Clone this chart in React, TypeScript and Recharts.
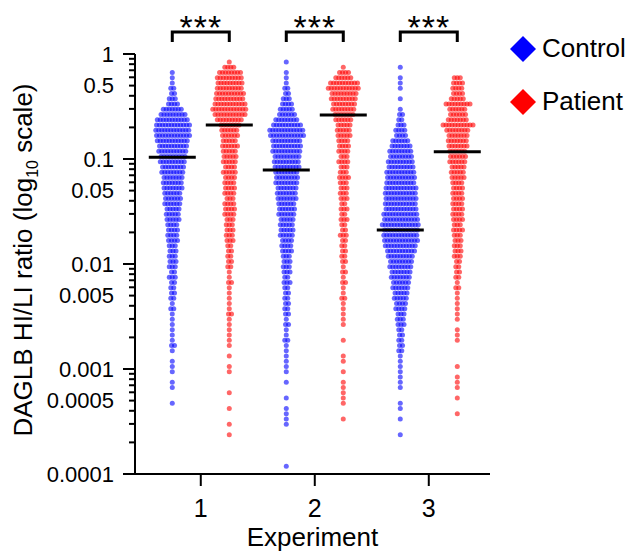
import { ScatterChart, Scatter, XAxis, YAxis, Legend } from "recharts";

const FONT = '"Liberation Sans", Arial, sans-serif';

const experiments = [1, 2, 3];
const groups = ["Control", "Patient"];
const groupColors = ["#0000ff", "#ff0000"];

// points per 0.05-decade row of the swarm, counted down from 1
const control1 = [
  0, 0, 0, 1, 1, 1, 2, 2, 3, 4, 7, 9, 11, 12, 12, 12, 11, 10, 10, 9,
  9, 8, 8, 7, 7, 7, 6, 6, 6, 5, 5, 5, 4, 4, 4, 4, 3, 3, 3, 3,
  3, 2, 3, 2, 2, 2, 2, 1, 2, 1, 1, 1, 1, 1, 1, 2, 1, 0, 1, 1,
  1, 0, 1, 1, 0, 0, 1,
];
const patient1 = [
  0, 1, 4, 8, 9, 9, 9, 10, 10, 11, 12, 11, 9, 7, 6, 6, 5, 6, 5, 5,
  5, 4, 5, 4, 4, 4, 4, 3, 4, 4, 4, 3, 3, 3, 3, 3, 2, 2, 2, 2,
  2, 1, 1, 2, 1, 1, 1, 1, 1, 2, 1, 1, 1, 1, 1, 1, 0, 1, 0, 1,
  1, 0, 0, 0, 1, 0, 0, 1, 0, 0, 1, 0, 1,
];
const control2 = [
  0, 1, 0, 1, 1, 1, 2, 2, 3, 4, 5, 6, 8, 10, 12, 12, 10, 10, 10, 9,
  9, 9, 8, 8, 8, 7, 7, 7, 6, 6, 6, 5, 5, 5, 5, 4, 4, 4, 3, 3,
  3, 3, 2, 3, 2, 2, 2, 2, 2, 2, 1, 2, 1, 1, 2, 1, 1, 1, 1, 1,
  1, 0, 1, 0, 0, 1, 0, 1, 1, 1, 1, 0, 0, 0, 0, 0, 0, 0, 1,
];
const patient2 = [
  0, 0, 1, 4, 6, 10, 11, 9, 9, 8, 8, 7, 6, 5, 5, 5, 4, 4, 4, 3,
  4, 3, 3, 4, 3, 3, 3, 3, 2, 3, 2, 3, 2, 2, 3, 2, 2, 2, 2, 2,
  1, 2, 1, 2, 1, 1, 2, 1, 1, 1, 1, 1, 0, 0, 1, 0, 0, 1, 1, 0,
  1, 0, 1, 1, 1, 1, 1, 0, 0, 1,
];
const control3 = [
  0, 0, 1, 0, 1, 1, 1, 0, 1, 0, 1, 2, 2, 3, 4, 4, 6, 7, 8, 8,
  9, 9, 10, 10, 10, 11, 11, 11, 11, 11, 12, 12, 13, 12, 12, 12, 11, 10, 9, 8,
  8, 7, 7, 6, 6, 5, 5, 4, 4, 3, 3, 3, 2, 2, 2, 2, 2, 1, 1, 1,
  1, 1, 1, 1, 0, 0, 1, 1, 0, 1, 0, 0, 1,
];
const patient3 = [
  0, 0, 0, 0, 3, 4, 4, 4, 5, 9, 6, 6, 7, 11, 8, 7, 7, 7, 6, 6,
  6, 5, 5, 5, 4, 4, 4, 4, 4, 4, 4, 4, 3, 4, 3, 3, 3, 3, 3, 2,
  2, 2, 2, 1, 2, 1, 1, 1, 1, 1, 1, 0, 1, 1, 1, 0, 0, 0, 0, 1,
  0, 1, 1, 1, 0, 1, 0, 0, 1,
];

const controlCounts = [control1, control2, control3];
const patientCounts = [patient1, patient2, patient3];

const controlMedians = [0.104, 0.0786, 0.0211];
const patientMedians = [0.211, 0.262, 0.117];

const significance = ["***", "***", "***"];

const yTickValues = [1, 0.5, 0.1, 0.05, 0.01, 0.005, 0.001, 0.0005, 0.0001];
const yTickLabels = ["1", "0.5", "0.1", "0.05", "0.01", "0.005", "0.001", "0.0005", "0.0001"];

const BIN = 0.05; // decades per swarm row
const STEP = 0.0263; // horizontal gap between swarm points, x units
const SIDE = 0.25; // offset of each group from the experiment tick
const TICK_SIZE = 12;
const TICK_MARGIN = 9;

function swarm(counts: number[], center: number) {
  const pts: { x: number; y: number }[] = [];
  counts.forEach((c, i) => {
    const y = Math.pow(10, -(i + 0.5) * BIN);
    // stagger odd rows a little so the swarm packs like a honeycomb
    const shift = c > 1 && i % 2 === 1 ? STEP * 0.25 : 0;
    for (let j = 0; j < c; j++) {
      pts.push({ x: center + (j - (c - 1) / 2) * STEP + shift, y });
    }
  });
  return pts;
}

const logTicks: number[] = [];
for (let k = -4; k < 0; k++) {
  for (let m = 1; m < 10; m++) logTicks.push(m * Math.pow(10, k));
}
logTicks.push(1);

const controlData = experiments.flatMap((e, i) => swarm(controlCounts[i], e - SIDE));
const patientData = experiments.flatMap((e, i) => swarm(patientCounts[i], e + SIDE));
const medianData = experiments.flatMap((e, i) => [
  { x: e - SIDE, y: controlMedians[i] },
  { x: e + SIDE, y: patientMedians[i] },
]);
const bracketData = experiments.map((e, i) => ({ x: e, y: 1, label: significance[i] }));

const dot = (color: string) => (props: any) => (
  <circle cx={props.cx} cy={props.cy} r={2.5} fill={color} fillOpacity={0.6} />
);

function MedianLine(props: any) {
  const { cx, cy } = props;
  return <line x1={cx - 23.5} x2={cx + 23.5} y1={cy} y2={cy} stroke="#000" strokeWidth={3} />;
}

function Bracket(props: any) {
  const { cx, cy, payload } = props;
  const half = 28.5;
  return (
    <g>
      <path
        d={`M${cx - half},${cy - 12}V${cy - 22}H${cx + half}V${cy - 12}`}
        fill="none"
        stroke="#000"
        strokeWidth={3}
      />
      <text
        x={cx}
        y={cy - 15}
        textAnchor="middle"
        fontSize={34}
        letterSpacing={1}
        fontFamily={FONT}
        fill="#000"
      >
        {payload.label}
      </text>
    </g>
  );
}

function YTick(props: any) {
  const { x, y, payload } = props;
  const v = payload.value;
  const lg = Math.log10(v);
  const idx = yTickValues.findIndex((t) => Math.abs(Math.log10(t) - lg) < 1e-6);
  const major = Math.abs(lg - Math.round(lg)) < 1e-6;
  const end = x + TICK_MARGIN + TICK_SIZE;
  return (
    <g>
      <line x1={end - (major ? 12 : 6)} x2={end} y1={y} y2={y} stroke="#000" strokeWidth={2} />
      {idx >= 0 && (
        <text x={x} y={y} dy="0.35em" textAnchor="end" fontSize={22} fontFamily={FONT} fill="#000">
          {yTickLabels[idx]}
        </text>
      )}
    </g>
  );
}

function YTitle(props: any) {
  const { viewBox } = props;
  const cx = 32;
  const cy = viewBox.y + viewBox.height / 2 - 4;
  return (
    <text
      x={cx}
      y={cy}
      transform={`rotate(-90 ${cx} ${cy})`}
      textAnchor="middle"
      fontSize={26}
      fontFamily={FONT}
      fill="#000"
    >
      DAGLB HI/LI ratio (log
      <tspan fontSize={16} dy={6}>10</tspan>
      <tspan dy={-6}> scale)</tspan>
    </text>
  );
}

function LegendBox() {
  return (
    <div style={{ fontFamily: FONT, fontSize: 26, color: "#000" }}>
      {groups.map((g, i) => (
        <div key={g} style={{ display: "flex", alignItems: "center", height: 53 }}>
          <svg width={28} height={28}>
            <polygon points="14,1 27,14 14,27 1,14" fill={groupColors[i]} />
          </svg>
          <span style={{ marginLeft: 5 }}>{g}</span>
        </div>
      ))}
    </div>
  );
}

export default function App() {
  return (
    <div style={{ position: "absolute", left: 0, top: 0, background: "#fff" }}>
      <ScatterChart width={633} height={555} margin={{ top: 54, right: 143, bottom: 0, left: 0 }}>
        <XAxis
          type="number"
          dataKey="x"
          domain={[0.423, 3.537]}
          ticks={experiments}
          interval={0}
          height={81}
          tickSize={TICK_SIZE}
          tickMargin={13}
          axisLine={{ stroke: "#000", strokeWidth: 2 }}
          tickLine={{ stroke: "#000", strokeWidth: 2 }}
          tick={{ fontSize: 25, fill: "#000", fontFamily: FONT }}
          label={{ value: "Experiment", position: "insideBottom", offset: 9, fontSize: 26, fill: "#000", fontFamily: FONT }}
        />
        <YAxis
          type="number"
          dataKey="y"
          scale="log"
          domain={[0.0001, 1]}
          ticks={logTicks}
          interval={0}
          width={135}
          tickSize={TICK_SIZE}
          tickMargin={TICK_MARGIN}
          tickLine={false}
          axisLine={{ stroke: "#000", strokeWidth: 2 }}
          tick={<YTick />}
          label={(p: any) => <YTitle {...p} />}
        />
        <Legend
          layout="vertical"
          align="center"
          verticalAlign="middle"
          wrapperStyle={{ left: 509, top: 22 }}
          content={() => <LegendBox />}
        />
        <Scatter name="Control" data={controlData} shape={dot(groupColors[0])} isAnimationActive={false} />
        <Scatter name="Patient" data={patientData} shape={dot(groupColors[1])} isAnimationActive={false} />
        <Scatter data={medianData} shape={MedianLine} legendType="none" isAnimationActive={false} />
        <Scatter data={bracketData} shape={Bracket} legendType="none" isAnimationActive={false} />
      </ScatterChart>
    </div>
  );
}
